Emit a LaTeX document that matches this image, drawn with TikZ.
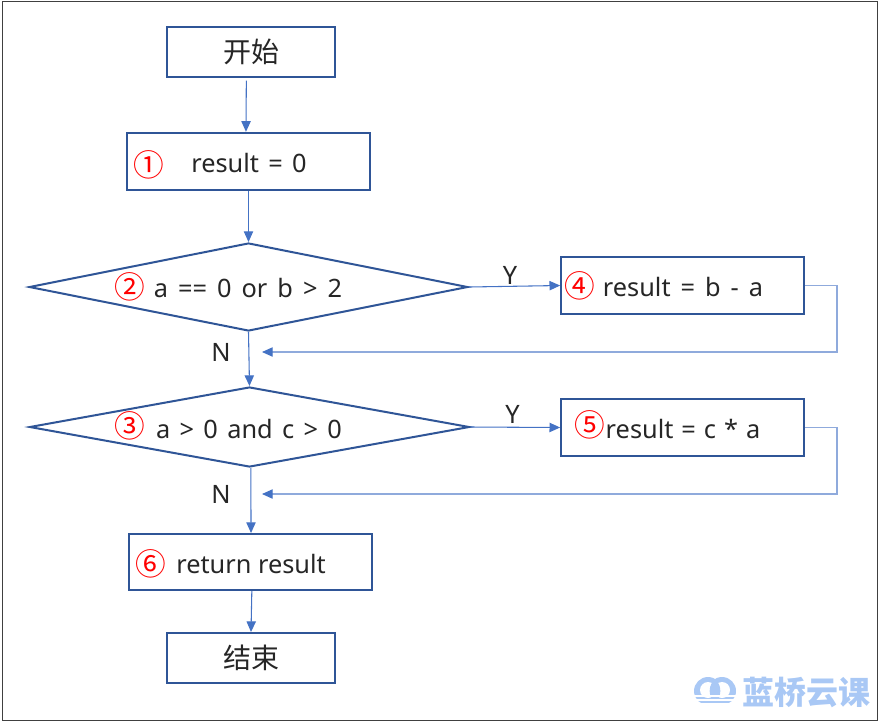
\documentclass[tikz,border=0pt]{standalone}
\usepackage{fontspec}
\setmainfont{Noto Sans}
\newfontfamily\cjk{Noto Sans CJK SC}
\usetikzlibrary{shapes.geometric,arrows.meta}
\definecolor{boxblue}{HTML}{2F5597}
\definecolor{flowblue}{HTML}{4472C4}
\definecolor{backblue}{HTML}{8FAADC}
\definecolor{logoblue}{HTML}{A9C8F5}
\tikzset{
    stepbox/.style={rectangle,draw=boxblue,line width=1.5pt,fill=white,inner sep=0pt},
    testbox/.style={diamond,draw=boxblue,line width=1.5pt,fill=white,inner sep=0pt},
    flow/.style={-{Triangle[length=8pt,width=7pt]},draw=flowblue,line width=0.8pt},
    backflow/.style={-{Triangle[length=8pt,width=7pt,color=flowblue]},draw=backblue,line width=0.8pt},
    txt/.style={font=\fontsize{19}{19}\selectfont,text=black!85},
    wide/.style={txt,execute at begin node={\spaceskip=#1\relax}},
    cjktxt/.style={font=\cjk\fontsize{21}{21}\selectfont,text=black!85},
    num/.style={font=\cjk\fontsize{23}{23}\selectfont,text=red},
}
\begin{document}
\begin{tikzpicture}[x=0.75pt,y=-0.75pt]
    \useasboundingbox (0,0) rectangle (880,722);
    \node[rectangle,draw=black!75,line width=1.2pt,minimum width=656pt,minimum height=539.5pt,inner sep=0pt] (frame) at (440,361) {};

    \node[stepbox,minimum width=126pt,minimum height=37.5pt,cjktxt] (start) at (251,52) {开始};
    \node[stepbox,minimum width=182pt,minimum height=43pt] (init) at (248.5,161.5) {};
    \node[testbox,minimum width=329pt,minimum height=66pt] (testb) at (248.5,287) {};
    \node[testbox,minimum width=330pt,minimum height=60pt] (testc) at (249.5,427) {};
    \node[stepbox,minimum width=182pt,minimum height=43pt] (subab) at (682.5,285.5) {};
    \node[stepbox,minimum width=182pt,minimum height=43pt] (mulca) at (682.5,427.5) {};
    \node[stepbox,minimum width=182pt,minimum height=42pt] (ret) at (250.5,562) {};
    \node[stepbox,minimum width=126pt,minimum height=37.5pt,cjktxt] (finish) at (251,658) {结束};

    \node[num] (n1) at (149,165) {①};
    \node[wide=7pt] (t1) at (249,163) {result = 0};
    \node[num] (n2) at (130,287) {②};
    \node[wide=7.5pt] (t2) at (248,288) {a == 0 or b > 2};
    \node[num] (n3) at (130,426) {③};
    \node[wide=7pt] (t3) at (249,429) {a > 0 and c > 0};
    \node[num] (n4) at (580,286) {④};
    \node[wide=7.5pt] (t4) at (683,287) {result = b - a};
    \node[num] (n5) at (590,425) {⑤};
    \node[wide=6pt] (t5) at (683,429) {result = c * a};
    \node[num] (n6) at (151,564) {⑥};
    \node[txt] (t6) at (251,564) {return result};

    \coordinate (back1) at (262,352);
    \coordinate (turn1) at (837,352);
    \coordinate (back2) at (262,494);
    \coordinate (turn2) at (837,494);

    \draw[flow] ([xshift=-3.5pt,yshift=-2pt]start.south) -- ([xshift=-1.9pt]init.north);
    \draw[flow] (init.south) -- (testb.north);
    \draw[flow] (testb.south) -- (testc.north);
    \draw[flow] ([xshift=1pt]testc.south) -- ([xshift=0.4pt]ret.north);
    \draw[flow] ([xshift=1pt]ret.south) -- (finish.north);
    \draw[flow] (testb.east) -- node[txt,above,pos=0.45,yshift=-2pt] (y1) {Y} (subab.west);
    \draw[flow] (testc.east) -- node[txt,above,pos=0.47,yshift=-1pt] (y2) {Y} (mulca.west);
    \draw[backflow] (subab.east) -| (turn1) -- (back1);
    \draw[backflow] (mulca.east) -| (turn2) -- (back2);

    \node[txt] (no1) at (221,352) {N};
    \node[txt] (no2) at (221,494) {N};

    \fill[logoblue] (708,691) circle (10.5pt) (722,691) circle (10.5pt);
    \fill[white] (708,690) circle (6pt) (722,690) circle (6pt);
    \fill[logoblue] (715,691) ellipse (4pt and 7.5pt);
    \foreach \y in {695,699,703}
        \fill[white] (694,\y) rectangle (737,\y+1.5);
    \node[font=\cjk\bfseries\fontsize{24}{24}\selectfont,text=logoblue,inner sep=0pt] (logo) at (806,692) {蓝桥云课};
\end{tikzpicture}
\end{document}
